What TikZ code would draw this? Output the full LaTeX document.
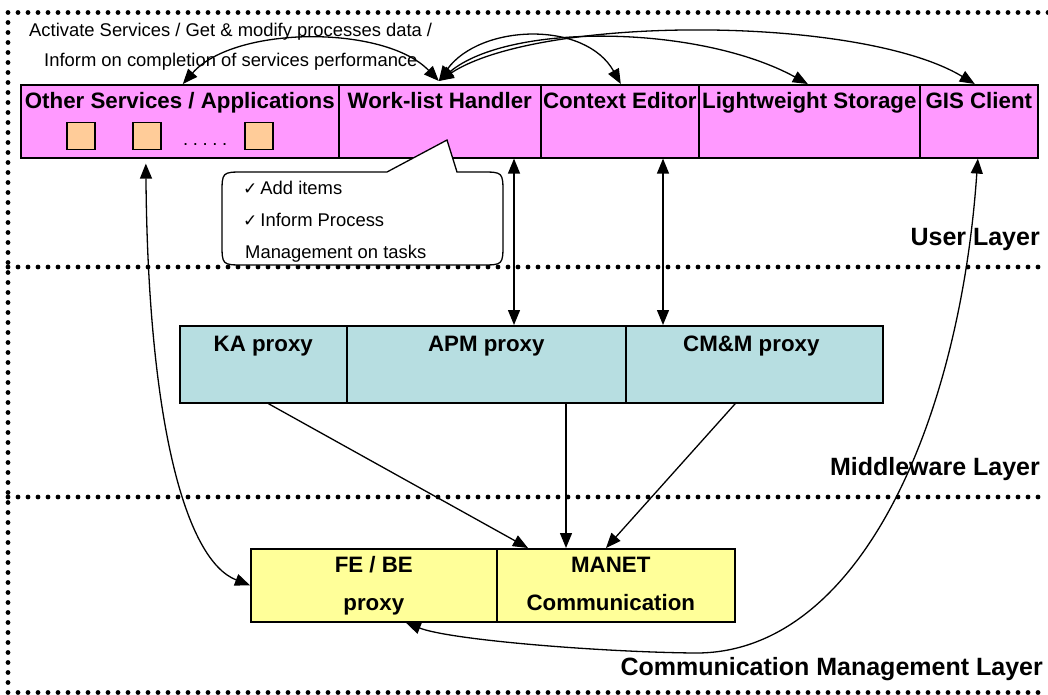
\documentclass[tikz,border=0pt]{standalone}
\usepackage{fontspec}
\setmainfont{Liberation Sans}
\newfontfamily\symfont{DejaVu Sans}
\usetikzlibrary{arrows.meta,calc}
\definecolor{pinkc}{RGB}{255,153,255}
\definecolor{tealc}{RGB}{183,222,225}
\definecolor{yellowc}{RGB}{255,255,153}
\definecolor{orangec}{RGB}{255,204,153}
\newcommand{\chkmark}{{\symfont\fontsize{17}{19}\selectfont ✓}}
\begin{document}
\begin{tikzpicture}[x=1pt,y=-1pt,
  dotline/.style={line width=4.8pt, line cap=round, dash pattern=on 0pt off 10pt},
  boxbase/.style={draw, line width=1.6pt, inner sep=0pt, anchor=north west},
  cell/.style={boxbase, fill=pinkc, minimum height=73pt},
  proxy/.style={boxbase, fill=tealc, minimum height=77pt},
  lowbox/.style={boxbase, fill=yellowc, minimum height=73pt},
  sq/.style={draw, line width=1.4pt, fill=orangec, minimum width=28pt, minimum height=27pt, inner sep=0pt},
  blabel/.style={font=\fontsize{22.3}{26}\selectfont\bfseries, inner sep=0pt, anchor=base},
  layerlbl/.style={font=\fontsize{25}{28}\selectfont\bfseries, inner sep=0pt, anchor=base east},
  note/.style={font=\fontsize{18.4}{21}\selectfont, inner sep=0pt, anchor=base west},
  link/.style={line width=1.3pt, {Triangle[length=15pt,width=12pt]}-{Triangle[length=15pt,width=12pt]}},
  oneway/.style={line width=1.3pt, -{Triangle[length=15pt,width=12pt]}},
  callout/.style={draw, line width=1.3pt, fill=white}
]
\useasboundingbox (0,0) rectangle (1048,695);

% layer frame
\draw[dotline] (1048,12.5) -- (8,12.5) -- (8,692.5) -- (1048,692.5);
\draw[dotline] (8,267) -- (1048,267);
\draw[dotline] (8,497) -- (1048,497);

% user layer components
\node[cell, minimum width=318pt] (other) at (20,84) {};
\node[cell, minimum width=202pt] (work) at (338,84) {};
\node[cell, minimum width=158pt] (ctx) at (540,84) {};
\node[cell, minimum width=221pt] (light) at (698,84) {};
\node[cell, minimum width=118pt] (gis) at (919,84) {};

\node[blabel] (other-l) at ($(other.north)+(0,25)$) {Other Services / Applications};
\node[blabel] (work-l) at ($(work.north)+(0,25)$) {Work-list Handler};
\node[blabel] (ctx-l) at ($(ctx.north)+(0,25)$) {Context Editor};
\node[blabel] (light-l) at ($(light.north)+(0,25)$) {Lightweight Storage};
\node[blabel] (gis-l) at ($(gis.north)+(0,25)$) {GIS Client};

\node[sq] (s1) at (81,136) {};
\node[sq] (s2) at (147,136) {};
\node[sq] (s3) at (259,136) {};
\node[note] (more) at (183,146) {.\hspace{4.6pt}.\hspace{4.6pt}.\hspace{4.6pt}.\hspace{4.6pt}.};

% top annotation
\node[note] (act1) at (29,37) {Activate Services / Get \& modify processes data /};
\node[note] (act2) at (44,67) {Inform on completion of services performance};

% work-list callout
\draw[callout] (387,172) -- (244,172) .. controls (222,172) .. (222,194)
  -- (222,243) .. controls (222,265) .. (244,265)
  -- (481,265) .. controls (503,265) .. (503,243)
  -- (503,194) .. controls (503,172) .. (481,172)
  -- (457,172) -- (447,140) -- cycle;
\node[note] (c1) at (243,194) {\chkmark\hspace{3pt}Add items};
\node[note] (c2) at (243,226) {\chkmark\hspace{3pt}Inform Process};
\node[note] (c3) at (245,258) {Management on tasks};

% middleware layer
\node[proxy, minimum width=167pt] (ka) at (179,325) {};
\node[proxy, minimum width=279pt] (apm) at (346,325) {};
\node[proxy, minimum width=257pt] (cmm) at (625,325) {};
\node[blabel] (ka-l) at ($(ka.north)+(0,26)$) {KA proxy};
\node[blabel] (apm-l) at ($(apm.north)+(0,26)$) {APM proxy};
\node[blabel] (cmm-l) at ($(cmm.north)+(-3,26)$) {CM\&M proxy};

% communication management layer
\node[lowbox, minimum width=246pt] (fe) at (250,548) {};
\node[lowbox, minimum width=238pt] (manet) at (496,548) {};
\node[blabel] (fe-l1) at ($(fe.north)+(0,24)$) {FE / BE};
\node[blabel] (fe-l2) at ($(fe.north)+(0,62)$) {proxy};
\node[blabel] (manet-l1) at ($(manet.north)+(-5,24)$) {MANET};
\node[blabel] (manet-l2) at ($(manet.north)+(-5,62)$) {Communication};

% layer names
\node[layerlbl] (ul) at (1040,245) {User Layer};
\node[layerlbl] (ml) at (1040,475) {Middleware Layer};
\node[layerlbl] (cl) at (1043,675) {Communication Management Layer};

% interactions of the work-list handler
\coordinate (wl) at ($(work.north)+(-1,-3)$);
\draw[link] (wl) .. controls (385,25) and (235,25) .. ($(other.north)+(3,0)$);
\draw[link] (wl) .. controls (480,24) and (585,20) .. ($(ctx.north)+(1,0)$);
\draw[link] (wl) .. controls (510,22) and (700,25) .. ($(light.north)+(-1.5,0)$);
\draw[link] (wl) .. controls (540,15) and (860,15) .. ($(gis.north)+(-4,0)$);

\coordinate (wa) at (514,0);
\coordinate (cc) at (663,0);
\draw[link] (work.south -| wa) -- (apm.north -| wa);
\draw[link] (ctx.south -| cc) -- (cmm.north -| cc);

% proxies to MANET
\coordinate (am) at (566,0);
\draw[oneway] ($(ka.south)+(5,0)$) -- ($(manet.north west)+(32,0)$);
\draw[oneway] (apm.south -| am) -- (manet.north -| am);
\draw[oneway] ($(cmm.south)+(-19,0)$) -- ($(manet.north west)+(110,0)$);

% long links to FE / BE proxy
\draw[link, shorten <=5pt] ($(other.south)+(-34,0)$) .. controls (148,420) and (185,560) .. (fe.west);
\draw[link] ($(gis.south)+(-1,0)$) .. controls (960,420) and (860,655) .. (694,653)
  .. controls (600,652) and (450,640) .. ($(fe.south)+(32,0)$);
\end{tikzpicture}
\end{document}
